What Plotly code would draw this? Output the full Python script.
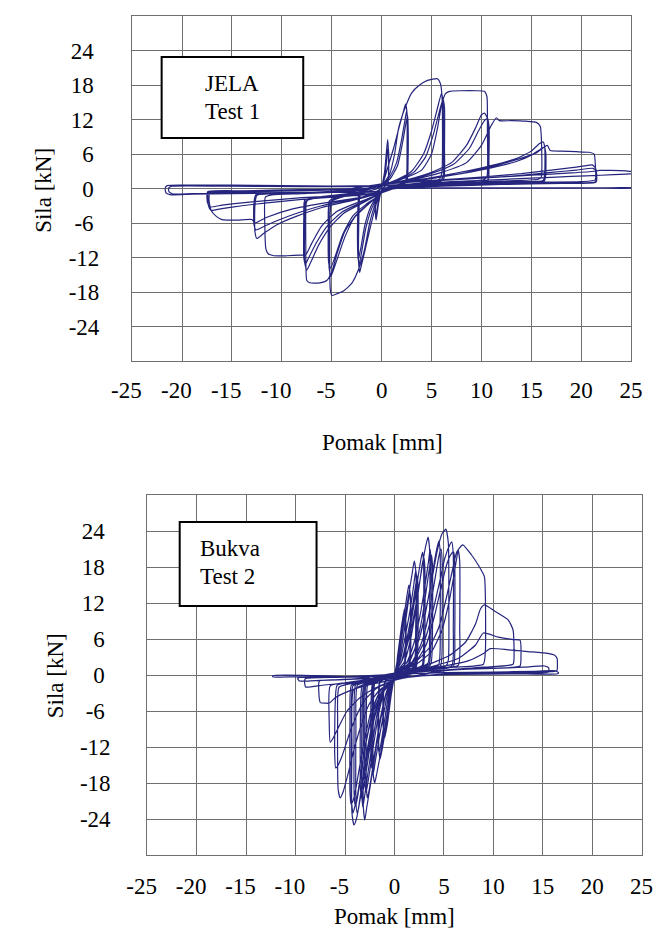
import plotly.graph_objects as go

# ---------------- data: (Pomak [mm], Sila [kN]) points ----------------
x_ticks = [-25, -20, -15, -10, -5, 0, 5, 10, 15, 20, 25]
y_ticks = [-24, -18, -12, -6, 0, 6, 12, 18, 24]

# ---- JELA, Test 1 ----
jela_a = [
    [(0,0),(0.3,3),(0.6,8.5),(0.68,6),(0.62,1),(0.3,0.3),(0,-0.3),(-0.3,-2.5),(-0.55,-5.5),(-0.62,-4),(-0.5,-0.8),(-0.2,-0.2),(0,0)],
    [(0,0),(0.35,2.5),(0.65,7.3),(0.72,5),(0.62,0.8),(0.2,0.2),(0,-0.3),(-0.3,-2),(-0.58,-4.8),(-0.65,-3),(-0.48,-0.5),(0,0)],
]
jela_b = [
    [(0,0),(0.5,3),(1.2,7),(1.8,11),(2.2,13.5),(2.4,14.7),(2.55,13),(2.55,8),(2.5,2),(2.3,1),(1.5,0.6),(0.5,0.2),(0,-0.5),(-0.5,-2.5),(-1.1,-6.5),(-1.7,-11),(-2.05,-13.5),(-2.2,-14.6),(-2.3,-13),(-2.3,-7),(-2.2,-1.5),(-2.0,-0.8),(-1.2,-0.4),(-0.4,0),(0,0.3)],
    [(0,0.3),(0.8,2),(1.5,4.5),(2.0,8.5),(2.35,12),(2.5,13.5),(2.6,12),(2.6,6),(2.5,1.5),(2.2,0.8),(1.2,0.4),(0.3,0),(-0.3,-1.2),(-1.0,-3.5),(-1.6,-7),(-2.0,-11),(-2.25,-13.3),(-2.35,-12),(-2.35,-6),(-2.2,-1.2),(-1.5,-0.6),(-0.5,0),(0,0.3)],
    [(0,0.3),(0.9,1.8),(1.6,4),(2.1,8),(2.45,11.5),(2.6,12.7),(2.65,11),(2.65,5),(2.55,1.3),(2.1,0.7),(1.0,0.3),(0.2,-0.1),(-0.4,-1.3),(-1.1,-3.2),(-1.7,-6.5),(-2.1,-10.5),(-2.35,-12.5),(-2.4,-11),(-2.4,-5),(-2.25,-1),(-1.4,-0.5),(-0.4,0),(0,0.4)],
]
jela_c = [
    [(0,0.4),(0.8,2.5),(1.3,6),(1.7,10.5),(2.3,13.8),(3.0,16.6),(3.8,18),(4.6,18.8),(5.6,19.1),(5.9,18.2),(6.05,16),(6.1,10),(6.05,3),(5.8,1.6),(4,1.0),(2,0.6),(0.6,0.2),(0,-0.6),(-0.6,-2.5),(-1.2,-6),(-1.7,-10.5),(-2.3,-14),(-3,-16.5),(-3.8,-17.8),(-4.6,-18.4),(-5.0,-18.6),(-5.15,-17.5),(-5.2,-12),(-5.15,-4),(-5.0,-2.2),(-4,-1.5),(-2.5,-0.8),(-1,0),(0,0.5)],
    [(0,0.5),(1.5,1.5),(3,3),(4.2,6),(5.0,10),(5.6,14),(6.0,16.6),(6.15,15),(6.2,8),(6.15,2),(5.8,1.3),(4,0.9),(2,0.5),(0.5,0),(-0.5,-1.5),(-1.5,-3),(-2.7,-5),(-3.7,-8.5),(-4.4,-12),(-4.9,-14.5),(-5.1,-15.3),(-5.25,-14),(-5.3,-8),(-5.2,-2.5),(-4.5,-1.6),(-2.5,-0.9),(-1,0),(0,0.5)],
    [(0,0.5),(1.5,1.4),(3.2,2.8),(4.4,5.5),(5.2,9.5),(5.8,13.5),(6.15,15.5),(6.3,14),(6.3,7),(6.25,1.8),(5.8,1.2),(4,0.8),(2,0.4),(0.5,-0.1),(-0.5,-1.5),(-1.6,-2.8),(-2.9,-4.8),(-3.9,-8),(-4.6,-11.5),(-5.1,-13.8),(-5.3,-13),(-5.35,-7),(-5.25,-2.2),(-4.5,-1.5),(-2.5,-0.8),(-1,0),(0,0.5)],
]
jela_d = [
    [(0,0.5),(2,1.6),(4,3.2),(5.0,6),(5.6,10.5),(6.0,14.5),(6.4,16.5),(6.8,16.9),(8,17.0),(9.5,17.0),(10.3,16.9),(10.55,16),(10.6,10),(10.55,2),(10.2,1.5),(7,1.2),(4,0.8),(1.5,0.3),(0,-0.8),(-1.2,-2.5),(-2.5,-4.5),(-3.7,-7.5),(-4.5,-11.5),(-5.0,-14.5),(-5.5,-16.0),(-6.2,-16.4),(-7.2,-16.4),(-7.5,-16),(-7.6,-10),(-7.55,-2.5),(-7.3,-1.8),(-5,-1.4),(-2.5,-0.8),(-1,0),(0,0.6)],
    [(0,0.6),(2.5,1.5),(5,2.8),(7,4.5),(8.5,7.5),(9.4,10.5),(10.0,12.8),(10.3,13.1),(10.65,12),(10.7,6),(10.6,1.4),(9,1.1),(6,0.9),(3,0.6),(1,0.1),(-0.5,-1.2),(-2,-2.6),(-3.8,-4.3),(-5.2,-6.8),(-6.3,-9.8),(-7.1,-12.8),(-7.5,-14.2),(-7.7,-13),(-7.7,-6),(-7.6,-2.2),(-6,-1.5),(-3,-0.9),(-1,0),(0,0.6)],
    [(0,0.6),(2.5,1.4),(5,2.6),(7.2,4.2),(8.8,7),(9.7,10),(10.3,11.8),(10.6,12.2),(10.75,11),(10.75,5),(10.65,1.3),(9,1.0),(6,0.8),(3,0.5),(1,0.1),(-0.5,-1.1),(-2,-2.4),(-3.9,-4),(-5.4,-6.4),(-6.5,-9.3),(-7.3,-12),(-7.65,-13.2),(-7.8,-12),(-7.8,-5),(-7.7,-2),(-6,-1.4),(-3,-0.8),(-1,0),(0,0.7)],
]
jela_e = [
    [(0,0.7),(3,1.5),(6,2.8),(8.5,4.5),(10,7.5),(11,11),(11.5,12.3),(11.8,11.8),(13,11.8),(14.5,11.7),(15.5,11.5),(15.9,10.8),(16,9),(16,2),(15.7,1.6),(12,1.3),(8,1.0),(4,0.6),(1,0),(-0.5,-1.2),(-2.5,-2.5),(-4.5,-4),(-6,-6.5),(-7.0,-9.5),(-7.6,-11.5),(-8.2,-11.6),(-9.5,-11.7),(-10.8,-11.7),(-11.4,-11.3),(-11.6,-10.5),(-11.7,-7),(-11.65,-1.5),(-11,-1.1),(-8,-0.9),(-4,-0.6),(-1,0),(0,0.7)],
    [(0,0.7),(3,1.3),(6,2.2),(9,3.2),(11.5,4.2),(13.5,5.2),(15,6.5),(15.8,7.8),(16.2,8.1),(16.35,7),(16.35,3),(16.2,1.4),(13,1.2),(9,1.0),(5,0.7),(1.5,0.2),(-0.5,-1.0),(-3,-2.1),(-6,-3.3),(-8.5,-4.8),(-10.5,-6.3),(-11.8,-7.8),(-12.5,-8.7),(-12.7,-7.5),(-12.7,-3),(-12.5,-1.2),(-9,-0.9),(-5,-0.6),(-1.5,0),(0,0.7)],
    [(0,0.7),(3,1.2),(6,2.0),(9,2.9),(11.5,3.8),(13.5,4.7),(15,5.8),(15.9,6.8),(16.3,7.2),(16.45,6.2),(16.45,2.5),(16.3,1.3),(13,1.1),(9,0.9),(5,0.6),(1.5,0.2),(-0.5,-0.9),(-3,-1.9),(-6,-3.0),(-8.5,-4.3),(-10.5,-5.6),(-11.9,-6.7),(-12.6,-7.2),(-12.8,-6.2),(-12.8,-2.5),(-12.6,-1.1),(-9,-0.8),(-5,-0.5),(-1.5,0),(0,0.7)],
]
jela_f = [
    [(0,0.7),(4,1.6),(8,2.6),(11,3.8),(13.5,5),(15.5,6.2),(16.6,7.5),(16.9,6.6),(18,6.5),(19.5,6.4),(20.8,6.3),(21.3,6.0),(21.4,4.5),(21.4,1.5),(20,1.2),(15,1.1),(10,0.9),(5,0.6),(1.5,0.1),(-0.5,-1.0),(-3,-1.8),(-6,-2.6),(-9,-3.6),(-11.5,-5),(-12.7,-6),(-13,-5.4),(-14.5,-5.5),(-16,-5.4),(-16.6,-4.8),(-17.1,-3.8),(-17.3,-2),(-17.2,-0.8),(-14,-0.6),(-9,-0.4),(-4,-0.2),(-1,0.1),(0,0.8)],
    [(0,0.8),(5,1.4),(10,2.0),(14,2.6),(17,3.2),(19.5,3.7),(21.1,4.1),(21.45,3.5),(21.45,1.2),(18,1.0),(12,0.8),(6,0.5),(1.5,0.1),(-0.5,-0.9),(-4,-1.4),(-8,-1.9),(-11.5,-2.5),(-14,-3.0),(-16,-3.5),(-17.1,-3.8),(-17.35,-3),(-17.35,-0.7),(-14,-0.5),(-8,-0.3),(-3,0),(0,0.8)],
    [(0,0.8),(5,1.3),(10,1.8),(14,2.3),(17,2.8),(19.5,3.2),(21.2,3.5),(21.5,3.0),(21.5,1.1),(18,0.9),(12,0.7),(6,0.4),(1.5,0.1),(-0.5,-0.8),(-4,-1.2),(-8,-1.6),(-11.5,-2.1),(-14,-2.5),(-16,-2.9),(-17.2,-3.2),(-17.45,-2.5),(-17.45,-0.6),(-14,-0.4),(-8,-0.2),(-3,0),(0,0.8)],
]
jela_g = [
    [(0,0.8),(5,1.3),(10,1.8),(15,2.3),(19,2.7),(21.3,3.0),(21.8,3.15),(23,3.15),(24.5,3.05),(25.3,2.9),(25.6,2.0),(25.6,0.3),(24,0.15),(21.5,0.1),(18,0.1),(12,0.1),(6,0.1),(1.5,0),(-0.5,-0.6),(-5,-0.7),(-10,-0.8),(-15,-0.9),(-19,-1.0),(-21.1,-1.1),(-21.6,-0.8),(-21.7,0),(-21.5,0.5),(-20,0.6),(-15,0.6),(-10,0.5),(-5,0.4),(0,0.5)],
    [(0,0.5),(5,1.0),(10,1.4),(15,1.8),(19,2.1),(22,2.3),(24.5,2.5),(25.6,2.6),(25.7,1.5),(25.7,0.2),(22,0.1),(15,0.05),(8,0.05),(1.5,0),(-0.5,-0.5),(-5,-0.6),(-10,-0.7),(-15,-0.8),(-19,-0.9),(-20.9,-0.95),(-21.3,-0.6),(-21.35,0.1),(-21,0.4),(-15,0.4),(-8,0.3),(0,0.3)],
]

# ---- Bukva, Test 2 ----
bukva_a = [
    [(0,0),(0.3,3),(0.7,8),(1.0,11),(1.1,10),(1.1,4),(0.9,1),(0.4,0.5),(0,-0.5),(-0.3,-3),(-0.7,-8),(-1.0,-10.5),(-1.1,-9),(-1.1,-3),(-0.9,-1),(-0.4,-0.6),(0,0)],
    [(0,0),(0.4,2.5),(0.8,7),(1.05,9.8),(1.15,9),(1.15,3),(0.9,0.9),(0.4,0.4),(0,-0.6),(-0.4,-2.5),(-0.8,-7),(-1.05,-9.5),(-1.15,-8.5),(-1.15,-3),(-0.9,-0.9),(-0.4,-0.5),(0,0)],
    [(0,0),(0.35,3),(0.8,8),(1.2,12.5),(1.45,15),(1.58,13.5),(1.58,6),(1.45,1.2),(1.0,0.7),(0.4,0.3),(0,-0.6),(-0.35,-3),(-0.8,-8),(-1.2,-12),(-1.45,-14),(-1.58,-12.5),(-1.58,-5),(-1.45,-1.2),(-1.0,-0.7),(-0.4,-0.3),(0,0)],
    [(0,0),(0.5,2.5),(0.95,7),(1.3,11),(1.55,13.8),(1.65,12.5),(1.65,5),(1.5,1.1),(1.0,0.6),(0.4,0.3),(0,-0.6),(-0.5,-2.5),(-0.95,-7),(-1.3,-10.8),(-1.55,-13),(-1.65,-11.5),(-1.65,-4.5),(-1.5,-1.1),(-1.0,-0.6),(-0.4,-0.3),(0,0)],
]
bukva_b = [
    [(0,0),(0.4,3),(0.9,8),(1.4,13),(1.8,17),(2.0,19),(2.15,17.5),(2.15,8),(2.0,1.5),(1.5,0.9),(0.5,0.4),(0,-0.6),(-0.4,-3),(-0.9,-8),(-1.4,-13),(-1.8,-16.5),(-2.0,-18),(-2.15,-16.5),(-2.15,-7),(-2.0,-1.5),(-1.5,-0.9),(-0.5,-0.3),(0,0.2)],
    [(0,0.2),(0.6,2.5),(1.1,6.5),(1.6,11),(1.95,15),(2.15,17.5),(2.25,16),(2.25,7),(2.1,1.4),(1.5,0.8),(0.5,0.3),(0,-0.7),(-0.6,-2.5),(-1.1,-6.5),(-1.6,-11),(-1.95,-14.5),(-2.15,-16.5),(-2.25,-15),(-2.25,-6),(-2.1,-1.4),(-1.5,-0.8),(-0.5,-0.3),(0,0.2)],
    [(0,0.2),(0.7,2.2),(1.25,6),(1.75,10.5),(2.1,14.5),(2.3,16.5),(2.38,15),(2.38,6),(2.2,1.3),(1.5,0.8),(0.5,0.3),(0,-0.7),(-0.7,-2.3),(-1.25,-6),(-1.75,-10.5),(-2.1,-14),(-2.3,-15.5),(-2.38,-14),(-2.38,-5),(-2.2,-1.3),(-1.5,-0.8),(-0.5,-0.3),(0,0.2)],
    [(0,0.2),(0.8,2.5),(1.5,7),(2.0,12),(2.4,16.5),(2.7,19.5),(2.85,20.5),(2.95,18.5),(2.95,8),(2.8,1.6),(2.0,1.0),(1.0,0.5),(0,-0.7),(-0.8,-2.8),(-1.4,-7),(-1.9,-12),(-2.3,-16.5),(-2.6,-19.5),(-2.75,-20.5),(-2.85,-18.5),(-2.85,-8),(-2.7,-1.6),(-2.0,-1.0),(-1.0,-0.5),(0,0.2)],
    [(0,0.2),(1.0,2.2),(1.7,6.5),(2.2,11.5),(2.6,16),(2.85,18.8),(3.0,19.5),(3.08,17.5),(3.08,7),(2.9,1.5),(2.0,0.9),(1.0,0.5),(0,-0.7),(-1.0,-2.5),(-1.6,-6.5),(-2.1,-11.5),(-2.5,-16),(-2.78,-18.8),(-2.9,-19.5),(-3.0,-17.5),(-3.0,-7),(-2.85,-1.5),(-2.0,-0.9),(-1.0,-0.5),(0,0.2)],
]
bukva_c = [
    [(0,0.2),(0.8,2.5),(1.6,7),(2.2,12),(2.7,17),(3.1,21),(3.4,23),(3.55,21),(3.55,10),(3.4,2),(2.5,1.2),(1.2,0.6),(0,-0.8),(-0.8,-3),(-1.4,-7.5),(-1.9,-12.5),(-2.4,-18),(-2.8,-22),(-3.0,-24.2),(-3.15,-22),(-3.15,-10),(-3.0,-2),(-2.2,-1.2),(-1.0,-0.5),(0,0.3)],
    [(0,0.3),(1.2,2),(2.0,5.5),(2.6,10),(3.1,15),(3.45,19),(3.6,21),(3.7,19),(3.7,9),(3.5,1.8),(2.5,1.1),(1.2,0.5),(0,-0.8),(-1.0,-2.5),(-1.7,-6),(-2.2,-11),(-2.7,-16.5),(-3.05,-20.5),(-3.2,-22),(-3.3,-20),(-3.3,-9),(-3.1,-1.8),(-2.2,-1.1),(-1.0,-0.5),(0,0.3)],
    [(0,0.3),(1.4,1.9),(2.2,5),(2.8,9.5),(3.25,14.5),(3.6,18.5),(3.75,20),(3.85,18),(3.85,8),(3.65,1.7),(2.5,1.0),(1.2,0.5),(0,-0.8),(-1.1,-2.3),(-1.85,-5.5),(-2.35,-10.5),(-2.85,-16),(-3.2,-19.5),(-3.35,-20.5),(-3.45,-18.5),(-3.45,-8),(-3.25,-1.7),(-2.2,-1.0),(-1.0,-0.5),(0,0.3)],
    [(0,0.3),(1.4,2.3),(2.4,5.5),(3.1,10),(3.6,14.5),(4.0,18.5),(4.35,21.5),(4.5,22.3),(4.62,20.5),(4.62,9),(4.45,1.6),(3,1.0),(1.5,0.5),(0,-0.8),(-1.2,-2.7),(-2.0,-6.3),(-2.6,-11),(-3.05,-15.5),(-3.4,-19.5),(-3.65,-22.3),(-3.78,-23),(-3.9,-21),(-3.9,-9),(-3.75,-1.7),(-2.5,-1.1),(-1.2,-0.5),(0,0.3)],
    [(0,0.3),(1.7,2.0),(2.7,5.2),(3.4,9.5),(3.9,14),(4.3,18),(4.6,20.6),(4.72,21),(4.82,19),(4.82,8),(4.65,1.5),(3,0.9),(1.5,0.5),(0,-0.8),(-1.4,-2.5),(-2.2,-6),(-2.8,-10.5),(-3.25,-15),(-3.6,-19),(-3.85,-21.3),(-3.98,-21.8),(-4.08,-19.8),(-4.08,-8),(-3.92,-1.6),(-2.5,-1.0),(-1.2,-0.5),(0,0.3)],
]
bukva_d = [
    [(0,0.3),(1.5,2.5),(2.5,6),(3.2,11),(3.8,16),(4.3,20.5),(4.8,23.5),(5.2,24.3),(5.45,22),(5.5,12),(5.45,2.5),(5.2,1.5),(4,1.1),(2,0.6),(0,-0.8),(-1.2,-3),(-2.0,-7),(-2.6,-12),(-3.1,-17),(-3.5,-21),(-3.85,-24),(-4.1,-25),(-4.3,-23),(-4.3,-12),(-4.15,-2.5),(-3,-1.5),(-1.5,-0.7),(0,0.3)],
    [(0,0.3),(1.8,2),(3.0,5.5),(3.8,10),(4.5,15),(5.1,19.5),(5.6,21.7),(5.8,22.2),(5.95,20),(5.95,8),(5.8,1.5),(4,1.0),(2,0.5),(0,-0.8),(-1.3,-2.8),(-2.2,-6.5),(-2.9,-11.5),(-3.4,-16.5),(-3.8,-20.5),(-4.1,-22.5),(-4.2,-23),(-4.35,-21),(-4.35,-9),(-4.2,-1.8),(-3,-1.2),(-1.5,-0.6),(0,0.3)],
    [(0,0.3),(2.0,1.9),(3.2,5),(4.0,9.5),(4.7,14.5),(5.3,18.5),(5.8,20.3),(6.0,20.5),(6.1,18.5),(6.1,7),(5.95,1.4),(4,0.9),(2,0.5),(0,-0.8),(-1.4,-2.6),(-2.35,-6),(-3.05,-11),(-3.55,-15.5),(-3.95,-19.3),(-4.25,-21.2),(-4.4,-21.5),(-4.5,-19.5),(-4.5,-8),(-4.35,-1.7),(-3,-1.1),(-1.5,-0.6),(0,0.3)],
]
bukva_e = [
    [(0,0.3),(2,2),(3.5,4.5),(4.5,8),(5.2,12.5),(5.8,17),(6.3,20.5),(6.9,21.7),(7.8,20),(8.6,18),(9.1,16.4),(9.2,13),(9.2,4),(9.0,1.8),(6,1.3),(3,0.8),(0,-0.9),(-1.5,-2.5),(-2.6,-5),(-3.4,-8.5),(-4.1,-12.5),(-4.7,-16.5),(-5.2,-19.5),(-5.5,-20.5),(-5.7,-19),(-5.75,-8),(-5.6,-2),(-4,-1.3),(-2,-0.7),(0,0.3)],
    [(0,0.3),(2.2,1.8),(3.8,4),(4.8,7.5),(5.5,12),(6.0,16.5),(6.3,19.5),(6.45,20.8),(6.6,19),(6.6,8),(6.45,1.6),(4,1.1),(2,0.6),(0,-0.9),(-1.8,-2.2),(-3.0,-4.2),(-3.9,-7),(-4.6,-10),(-5.3,-13.5),(-5.8,-15.3),(-5.95,-15.5),(-6.05,-13),(-6.0,-5),(-5.8,-1.7),(-4,-1.1),(-2,-0.6),(0,0.3)],
]
bukva_f = [
    [(0,0.3),(3,1.5),(5.5,3.2),(7.2,5.5),(8.2,8.5),(8.7,11),(9.1,11.7),(10.2,10.6),(11.5,9.2),(12.0,7.5),(12.1,3),(12.0,1.8),(9,1.3),(5,0.8),(0,-0.9),(-2,-2.2),(-3.5,-3.8),(-4.8,-6),(-5.6,-8.5),(-6.2,-10.5),(-6.5,-11.2),(-6.6,-8),(-6.5,-1.8),(-5,-1.3),(-2.5,-0.7),(0,0.3)],
    [(0,0.3),(3.5,1.3),(6.5,2.8),(8.2,5),(9.0,7),(10.5,6.3),(12.0,5.9),(12.7,5.8),(12.8,3),(12.7,1.5),(9,1.1),(5,0.7),(0,-0.8),(-2.5,-1.6),(-4.5,-2.6),(-6.0,-3.8),(-6.6,-4.7),(-7.0,-4.7),(-7.5,-4.6),(-7.65,-3),(-7.6,-1),(-6,-0.8),(-3,-0.5),(0,0.3)],
]
bukva_g = [
    [(0,0.3),(4,1.2),(7.5,2.4),(9.0,3.6),(9.7,4.4),(11.5,4.2),(13.5,3.9),(15.5,3.6),(16.2,3.3),(16.45,2.8),(16.45,0.8),(16.2,0.6),(12,0.5),(6,0.3),(0,-0.6),(-3,-1.1),(-6,-1.5),(-7.8,-1.8),(-8.6,-2.0),(-9.0,-2.0),(-9.1,-1.0),(-9.0,-0.6),(-6,-0.4),(-3,-0.3),(0,0.2)],
    [(0,0.2),(5,0.8),(10,1.1),(13,1.3),(15.2,1.5),(15.6,1.2),(15.6,0.5),(12,0.4),(6,0.2),(0,-0.4),(-4,-0.7),(-7.5,-0.9),(-9.6,-1.0),(-9.8,-0.6),(-9.6,-0.4),(-5,-0.3),(0,0.1)],
    [(0,0.1),(5,0.4),(10,0.5),(14,0.6),(16.3,0.7),(16.6,0.4),(16.5,0.2),(12,0.2),(6,0.1),(0,-0.3),(-5,-0.3),(-10,-0.3),(-12.3,-0.3),(-12.3,-0.1),(-8,-0.1),(0,0)],
]

# ---------------- figure ----------------
W, H = 664, 933
FONT = "Liberation Serif, Times New Roman, serif"
CURVE = "#25257e"
GRID = "#6f6f6f"
NB = "\u00a0"


def px(x):
    return x / W


def py(y):
    return 1 - y / H


def flatten(groups):
    xs, ys = [], []
    for group in groups:
        for cycle in group:
            for d, f in cycle:
                xs.append(d)
                ys.append(f)
    return xs, ys


fig = go.Figure()
jx, jy = flatten([jela_a, jela_b, jela_c, jela_d, jela_e, jela_f, jela_g])
bx, by = flatten([bukva_a, bukva_b, bukva_c, bukva_d, bukva_e, bukva_f, bukva_g])
line = dict(color=CURVE, width=1.2, shape="spline", smoothing=0.5)
fig.add_trace(go.Scatter(x=jx, y=jy, mode="lines", line=line, xaxis="x", yaxis="y",
                         showlegend=False, hoverinfo="skip"))
fig.add_trace(go.Scatter(x=bx, y=by, mode="lines", line=line, xaxis="x2", yaxis="y2",
                         showlegend=False, hoverinfo="skip"))

x_text = [(f"{v}" + NB * 2) if v < 0 else f"{v}" for v in x_ticks]
y_text = [f"{v}" if v <= -12 else f"{v}" + NB for v in y_ticks]

axis_common = dict(showgrid=True, gridcolor=GRID, gridwidth=1.4, zeroline=False,
                   showline=True, linecolor=GRID, linewidth=1.4, mirror=True, ticks="",
                   tickfont=dict(family=FONT, size=23, color="black"), fixedrange=True)

fig.update_layout(
    width=W, height=H, margin=dict(l=0, r=0, t=0, b=0),
    paper_bgcolor="white", plot_bgcolor="white",
    xaxis=dict(axis_common, domain=[px(117), px(642)], range=[-25, 25], anchor="y",
               tickmode="array", tickvals=x_ticks, ticktext=x_text, ticklabelstandoff=8),
    yaxis=dict(axis_common, domain=[py(361), py(16)], range=[-30, 30], anchor="x",
               tickmode="array", tickvals=y_ticks, ticktext=y_text, ticklabelstandoff=27),
    xaxis2=dict(axis_common, domain=[px(133), px(653)], range=[-25, 25], anchor="y2",
                tickmode="array", tickvals=x_ticks, ticktext=x_text, ticklabelstandoff=10),
    yaxis2=dict(axis_common, domain=[py(855), py(495)], range=[-30, 30], anchor="x2",
                tickmode="array", tickvals=y_ticks, ticktext=y_text, ticklabelstandoff=31),
)

tf = dict(family=FONT, size=23, color="black")
ann = [
    dict(text="Pomak [mm]", x=px(380), y=py(442)),
    dict(text="Pomak [mm]", x=px(393), y=py(916)),
    dict(text="Sila [kN]", x=px(23), y=py(190), textangle=-90),
    dict(text="Sila [kN]", x=px(36), y=py(676), textangle=-90),
    dict(text="JELA", x=px(222.5), y=py(84)),
    dict(text="Test 1", x=px(222.5), y=py(111)),
    dict(text="Bukva", x=px(186), y=py(548), xanchor="left"),
    dict(text="Test 2", x=px(186), y=py(576), xanchor="left"),
]
for a in ann:
    base = dict(xref="paper", yref="paper", showarrow=False, font=tf,
                xanchor="center", yanchor="middle")
    base.update(a)
    fig.add_annotation(**base)

fig.add_shape(type="rect", xref="paper", yref="paper", x0=px(148), x1=px(297),
              y0=py(138), y1=py(57), line=dict(color="black", width=2),
              fillcolor="white", layer="above")
fig.add_shape(type="rect", xref="paper", yref="paper", x0=px(167), x1=px(311),
              y0=py(606), y1=py(522), line=dict(color="black", width=2),
              fillcolor="white", layer="above")

fig.write_html("out.html", config={"displayModeBar": False},
               post_script="document.body.style.margin='0';document.body.style.overflow='hidden';")
